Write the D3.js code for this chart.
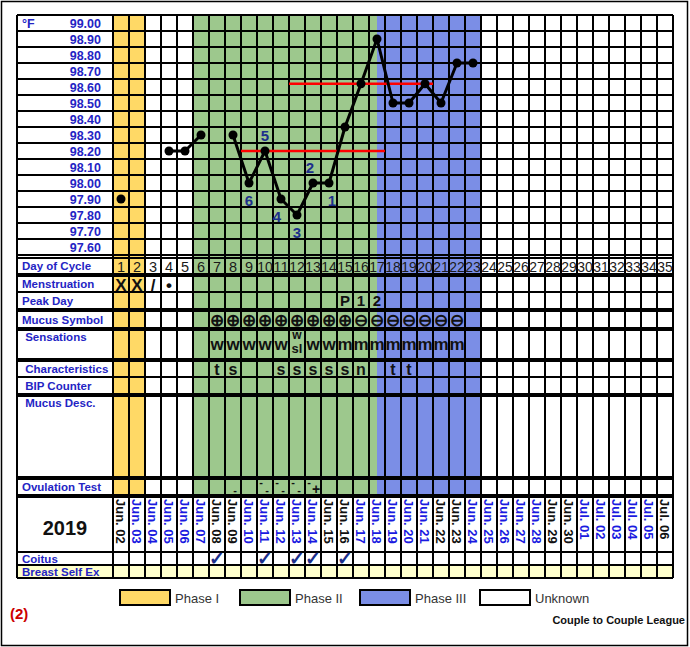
<!DOCTYPE html>
<html>
<head>
<meta charset="utf-8">
<script src="https://cdn.jsdelivr.net/npm/d3@7"></script>
<style>
  body { margin: 0; background: #fff; }
  text { font-family: Arial, "Liberation Sans", sans-serif; }
</style>
</head>
<body>
<div id="chart"></div>
<script>
// chart values
var days = d3.range(1, 36);
var tempTicks = [99.00, 98.90, 98.80, 98.70, 98.60, 98.50, 98.40, 98.30, 98.20, 98.10, 98.00, 97.90, 97.80, 97.70, 97.60];
var temps = [97.90, null, null, 98.20, 98.20, 98.30, null, 98.30, 98.00, 98.20, 97.90, 97.80, 98.00, 98.00, 98.35,
             98.62, 98.90, 98.50, 98.50, 98.62, 98.50, 98.75, 98.75];
var dateLabels = ['Jun. 02','Jun. 03','Jun. 04','Jun. 05','Jun. 06','Jun. 07','Jun. 08','Jun. 09','Jun. 10','Jun. 11',
                  'Jun. 12','Jun. 13','Jun. 14','Jun. 15','Jun. 16','Jun. 17','Jun. 18','Jun. 19','Jun. 20','Jun. 21',
                  'Jun. 22','Jun. 23','Jun. 24','Jun. 25','Jun. 26','Jun. 27','Jun. 28','Jun. 29','Jun. 30','Jul. 01',
                  'Jul. 02','Jul. 03','Jul. 04','Jul. 05','Jul. 06'];
var weekendDays = [1, 7, 8, 14, 15, 21, 22, 28, 29, 35];
var phases = [
  {name: 'Phase I', from: 0.5, to: 2.5, color: '#FFD966'},
  {name: 'Phase II', from: 5.5, to: 17, color: '#9DC88D'},
  {name: 'Phase III', from: 17, to: 23.5, color: '#7B8EE6'},
  {name: 'Unknown', from: null, to: null, color: '#ffffff'}
];
var coverLines = [{from: 8.5, to: 17.5, temp: 98.20}, {from: 11.5, to: 20.5, temp: 98.62}];
var countLabels = [[9, '6', 1], [10, '5', -1], [11, '4', 1], [12, '3', 1], [13, '2', -1], [14, '1', 1]];
var menstruation = [[1, 'X'], [2, 'X'], [3, '/'], [4, '•']];
var peakDay = [[15, 'P'], [16, '1'], [17, '2']];
var mucusSymbol = [[7,'⊕'],[8,'⊕'],[9,'⊕'],[10,'⊕'],[11,'⊕'],[12,'⊕'],[13,'⊕'],[14,'⊕'],[15,'⊕'],
                   [16,'⊖'],[17,'⊖'],[18,'⊖'],[19,'⊖'],[20,'⊖'],[21,'⊖'],[22,'⊖']];
var sensations = [[7,'w'],[8,'w'],[9,'w'],[10,'w'],[11,'w'],[13,'w'],[14,'w'],
                  [15,'m'],[16,'m'],[17,'m'],[18,'m'],[19,'m'],[20,'m'],[21,'m'],[22,'m']];
var sensationsStacked = [[12, 'w', 'sl']];
var characteristics = [[7,'t'],[8,'s'],[11,'s'],[12,'s'],[13,'s'],[14,'s'],[15,'s'],[16,'n'],[18,'t'],[19,'t']];
var ovulation = [[8, '', '-'], [10, '-', '-'], [11, '-', '-'], [12, '-', '-'], [13, '-', '+']];
var coitus = [7, 10, 12, 13, 15];
var year = '2019';

var svgWidth = 690, svgHeight = 647;
var labelLeft = 17, gridLeft = 113, gridRight = 673, gridTop = 15, gridBottom = 255;
var labelBlue = '#2424c4';

var svg = d3.select('#chart').append('svg')
    .attr('width', svgWidth)
    .attr('height', svgHeight);

var xScale = d3.scaleLinear().domain([0.5, 35.5]).range([gridLeft, gridRight]);
var yScale = d3.scaleLinear().domain([97.55, 99.05]).range([gridBottom, gridTop]);

// table rows under the temperature grid
var rows = [
  {label: 'Day of Cycle', y0: 258, y1: 274},
  {label: 'Menstruation', y0: 276, y1: 292},
  {label: 'Peak Day', y0: 292, y1: 309},
  {label: 'Mucus Symbol', y0: 311, y1: 328},
  {label: ' Sensations', y0: 330, y1: 359, top: true},
  {label: ' Characteristics', y0: 361, y1: 377},
  {label: ' BIP Counter', y0: 377, y1: 394},
  {label: ' Mucus Desc.', y0: 396, y1: 477, top: true},
  {label: 'Ovulation Test', y0: 479, y1: 495},
  {label: '', y0: 497, y1: 552},
  {label: 'Coitus', y0: 552, y1: 565},
  {label: 'Breast Self Ex', y0: 565, y1: 578}
];
var rowMid = function(i) { return (rows[i].y0 + rows[i].y1) / 2; };

// outer frame
svg.append('rect').attr('x', 1.5).attr('y', 1.5).attr('width', 686).attr('height', 644)
    .attr('fill', 'none').attr('stroke', '#000').attr('stroke-width', 1.5);

// phase backgrounds
svg.append('g').selectAll('rect')
    .data(phases.filter(d => d.from !== null))
    .enter().append('rect')
    .attr('x', d => xScale(d.from))
    .attr('width', d => xScale(d.to) - xScale(d.from))
    .attr('y', gridTop)
    .attr('height', 495 - gridTop)
    .attr('fill', d => d.color);

// breast self ex background
svg.append('rect').attr('x', labelLeft).attr('y', 565).attr('width', gridRight - labelLeft).attr('height', 13)
    .attr('fill', '#FFFFCC');

// grid lines
var grid = svg.append('g').attr('stroke', '#000').attr('stroke-width', 1.2).attr('shape-rendering', 'crispEdges');
grid.selectAll('.h').data(d3.range(0, 16)).enter().append('line')
    .attr('x1', labelLeft).attr('x2', gridRight)
    .attr('y1', i => gridTop + i * 16).attr('y2', i => gridTop + i * 16);
var tableLines = [258, 274, 276, 292, 309, 311, 328, 330, 359, 361, 377, 394, 396, 477, 479, 495, 497, 552, 565, 578];
grid.selectAll('.t').data(tableLines).enter().append('line')
    .attr('x1', labelLeft).attr('x2', gridRight)
    .attr('y1', d => d).attr('y2', d => d);
grid.selectAll('.v').data(d3.range(0.5, 36.5, 1)).enter().append('line')
    .attr('x1', d => xScale(d)).attr('x2', d => xScale(d))
    .attr('y1', gridTop).attr('y2', 578);
grid.append('line').attr('x1', labelLeft).attr('x2', labelLeft).attr('y1', gridTop).attr('y2', 578);

// temperature labels
svg.append('g').selectAll('text').data(tempTicks).enter().append('text')
    .attr('x', 101).attr('y', d => yScale(d) + 4.5)
    .attr('text-anchor', 'end')
    .attr('font-size', '12.5px').attr('font-weight', 'bold').attr('fill', labelBlue)
    .text(d => d.toFixed(2));
svg.append('text').attr('x', 22).attr('y', 27.5)
    .attr('font-size', '12.5px').attr('font-weight', 'bold').attr('fill', labelBlue).text('°F');

// cover lines
svg.append('g').selectAll('line').data(coverLines).enter().append('line')
    .attr('x1', d => xScale(d.from)).attr('x2', d => xScale(d.to))
    .attr('y1', d => yScale(d.temp)).attr('y2', d => yScale(d.temp))
    .attr('stroke', '#ff0000').attr('stroke-width', 2.5);

// temperature line
var tempData = temps.map((t, i) => ({day: i + 1, temp: t}));
var line = d3.line()
    .defined(d => d.temp !== null)
    .x(d => xScale(d.day))
    .y(d => yScale(d.temp));
svg.append('path').datum(tempData)
    .attr('d', line)
    .attr('fill', 'none').attr('stroke', '#000').attr('stroke-width', 3).attr('stroke-linejoin', 'round');
svg.append('g').selectAll('circle').data(tempData.filter(d => d.temp !== null)).enter().append('circle')
    .attr('cx', d => xScale(d.day)).attr('cy', d => yScale(d.temp)).attr('r', 4.5).attr('fill', '#000');

// low temp counting labels
svg.append('g').selectAll('text').data(countLabels).enter().append('text')
    .attr('x', d => xScale(d[0]) + (d[1] === '4' ? -4 : d[1] === '2' ? -3 : d[1] === '1' ? 3 : 0))
    .attr('y', d => yScale(temps[d[0] - 1]) + (d[2] > 0 ? 23 : -10))
    .attr('text-anchor', 'middle')
    .attr('font-size', '15px').attr('font-weight', 'bold').attr('fill', '#1c2f8c')
    .text(d => d[1]);

// row labels
svg.append('g').selectAll('text').data(rows.filter(r => r.label)).enter().append('text')
    .attr('x', 22)
    .attr('y', r => r.top ? r.y0 + 11 : (r.y0 + r.y1) / 2 + 4)
    .attr('font-size', '11.5px').attr('font-weight', 'bold').attr('fill', labelBlue)
    .text(r => r.label.replace(/^ /, '\u00a0'));

// day numbers
svg.append('g').selectAll('text').data(days).enter().append('text')
    .attr('x', d => xScale(d)).attr('y', rowMid(0) + 5.5)
    .attr('text-anchor', 'middle')
    .attr('font-size', '14.5px').attr('fill', '#1a1a1a')
    .attr('textLength', d => d > 9 ? 15.5 : null)
    .attr('lengthAdjust', 'spacingAndGlyphs')
    .text(d => d);

function cellText(data, rowIndex, size, dy) {
  svg.append('g').selectAll('text').data(data).enter().append('text')
      .attr('x', d => xScale(d[0])).attr('y', rowMid(rowIndex) + dy)
      .attr('text-anchor', 'middle')
      .attr('font-size', size).attr('font-weight', 'bold').attr('fill', '#111')
      .text(d => d[1]);
}
cellText(menstruation, 1, '17px', 6.5);
cellText(peakDay, 2, '15px', 5.5);
svg.append('g').selectAll('text').data(mucusSymbol).enter().append('text')
    .attr('x', d => xScale(d[0])).attr('y', rowMid(3) + 6)
    .attr('text-anchor', 'middle')
    .attr('font-family', 'DejaVu Sans')
    .attr('font-size', '17px').attr('font-weight', 'bold').attr('fill', '#111')
    .text(d => d[1]);
cellText(sensations, 4, '17px', 5);
var stack = svg.append('g').selectAll('g').data(sensationsStacked).enter().append('g');
stack.append('text').attr('x', d => xScale(d[0])).attr('y', 339)
    .attr('text-anchor', 'middle').attr('font-size', '12px').attr('font-weight', 'bold').attr('fill', '#111')
    .text(d => d[1]);
stack.append('text').attr('x', d => xScale(d[0])).attr('y', 353)
    .attr('text-anchor', 'middle').attr('font-size', '13px').attr('font-weight', 'bold').attr('fill', '#111')
    .text(d => d[2]);
cellText(characteristics, 5, '16px', 5.5);

// ovulation test marks
var ov = svg.append('g').selectAll('g').data(ovulation).enter().append('g');
ov.append('text').attr('x', d => xScale(d[0]) - 4).attr('y', 486)
    .attr('text-anchor', 'middle').attr('font-size', '11px').attr('font-weight', 'bold').attr('fill', '#111')
    .text(d => d[1]);
ov.append('text').attr('x', d => xScale(d[0]) + (d[2] === '+' ? 3 : 2)).attr('y', 494)
    .attr('text-anchor', 'middle').attr('font-size', d => d[2] === '+' ? '14px' : '11px')
    .attr('font-weight', 'bold').attr('fill', '#111')
    .text(d => d[2]);

// dates
svg.append('g').selectAll('text').data(dateLabels).enter().append('text')
    .attr('transform', (d, i) => `translate(${xScale(i + 1)}, 499) rotate(90)`)
    .attr('dy', '0.36em')
    .attr('font-size', '13px').attr('font-weight', 'bold')
    .attr('fill', (d, i) => weekendDays.indexOf(i + 1) >= 0 ? '#111' : '#1a1ae0')
    .text(d => d);
svg.append('text').attr('x', 65).attr('y', 535).attr('text-anchor', 'middle')
    .attr('font-size', '20px').attr('font-weight', 'bold').attr('fill', '#111').text(year);

// coitus checks
svg.append('g').selectAll('text').data(coitus).enter().append('text')
    .attr('x', d => xScale(d)).attr('y', 565)
    .attr('text-anchor', 'middle')
    .attr('font-family', 'DejaVu Sans')
    .attr('font-size', '19px').attr('font-weight', 'bold').attr('fill', '#1c2f8c')
    .text('✓');

// legend
var legend = svg.append('g').selectAll('g').data(phases).enter().append('g')
    .attr('transform', (d, i) => `translate(${120 + i * 120}, 590)`);
legend.append('rect').attr('width', 50).attr('height', 15)
    .attr('fill', d => d.color).attr('stroke', '#000').attr('stroke-width', 2);
legend.append('text').attr('x', 55).attr('y', 13)
    .attr('font-size', '13px').attr('fill', '#333').text(d => d.name);

svg.append('text').attr('x', 10).attr('y', 619)
    .attr('font-size', '15px').attr('font-weight', 'bold').attr('fill', '#cc0000').text('(2)');
svg.append('text').attr('x', 685).attr('y', 624).attr('text-anchor', 'end')
    .attr('font-size', '11px').attr('font-weight', 'bold').attr('fill', '#111').text('Couple to Couple League');
</script>
</body>
</html>
